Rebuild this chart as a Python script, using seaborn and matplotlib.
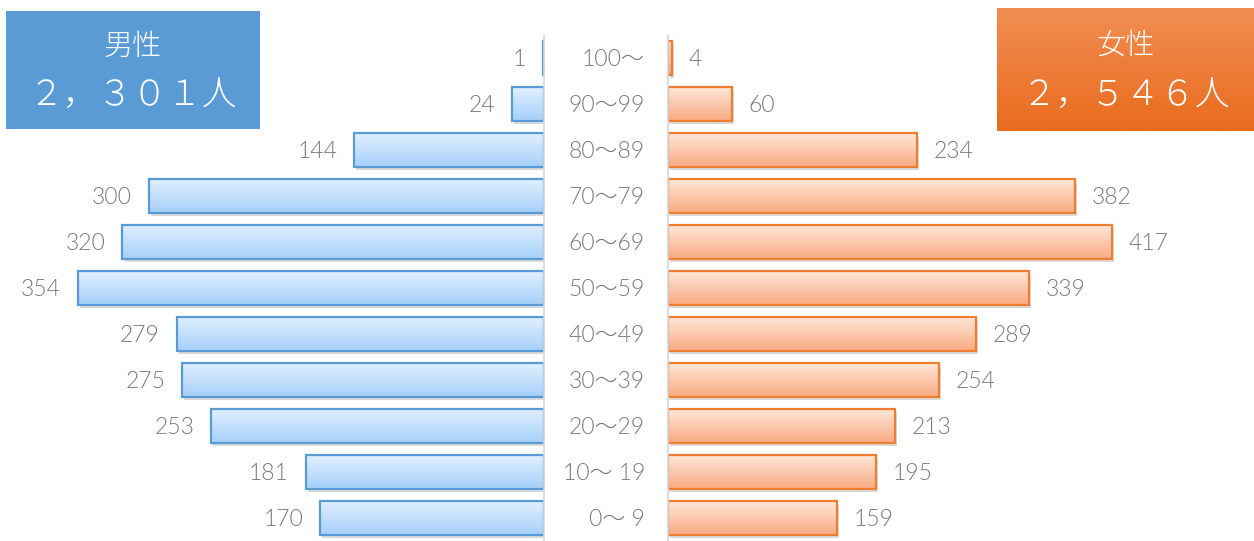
import numpy as np
import pandas as pd
import seaborn as sns
import matplotlib.pyplot as plt
from matplotlib.patches import Rectangle
from matplotlib.colors import LinearSegmentedColormap
import matplotlib.transforms as mtransforms

# data (top row first)
ages = ['100～', '90～99', '80～89', '70～79', '60～69', '50～59',
        '40～49', '30～39', '20～29', '10～ 19', '0～ 9']
male = [1, 24, 144, 300, 320, 354, 279, 275, 253, 181, 170]
female = [4, 60, 234, 382, 417, 339, 289, 254, 213, 195, 159]
male_title = '男性'
male_total = '２，３０１人'
female_title = '女性'
female_total = '２，５４６人'

sns.set_theme(style='white')
plt.rcParams['font.family'] = ['Lato', 'Noto Sans CJK JP', 'DejaVu Sans']

W, H = 1254, 541
fig = plt.figure(figsize=(W / 100, H / 100), dpi=100)
axL = fig.add_axes([0, 0, 544 / W, 1])
axR = fig.add_axes([668 / W, 0, (W - 668) / W, 1])

df = pd.DataFrame({'age': ages, 'male': male, 'female': female})
sns.barplot(data=df, x='male', y='age', orient='h', ax=axL, width=0.72,
            color='#5b9bd5')
sns.barplot(data=df, x='female', y='age', orient='h', ax=axR, width=0.72,
            color='#ed7d31')

blue_cmap = LinearSegmentedColormap.from_list('b', ['#e0efff', '#a6d0fa'])
orange_cmap = LinearSegmentedColormap.from_list('o', ['#fee6d8', '#f8ab82'])
grad = np.linspace(0, 1, 64).reshape(-1, 1)


def style_bars(ax, cmap, edge, xlim):
    shadow_tr = ax.transData + mtransforms.ScaledTranslation(1.5 / 72, -2.5 / 72, fig.dpi_scale_trans)
    for p in list(ax.patches):
        x0, y0, w, h = p.get_x(), p.get_y(), p.get_width(), p.get_height()
        sh = Rectangle((x0, y0), w, h, transform=shadow_tr, facecolor='#9a9a9a',
                       edgecolor='none', alpha=0.35, zorder=0.5)
        ax.add_patch(sh)
        im = ax.imshow(grad, cmap=cmap, aspect='auto', origin='upper',
                       extent=(x0, x0 + w, y0 + h, y0), zorder=1)
        im.set_clip_path(p)
        p.set_facecolor('none')
        p.set_edgecolor(edge)
        p.set_linewidth(1.6)
        p.set_zorder(2)
    ax.set_xlim(*xlim)
    ax.set_ylim(10.5, -1.26)
    ax.axis('off')


style_bars(axL, blue_cmap, '#5b9bd5', (413, 0))
style_bars(axR, orange_cmap, '#ed7d31', (0, 550))

txt_color = '#7a7a7a'
lbl = dict(fontsize=16.5, color=txt_color, fontweight=300, va='center_baseline')
for i, v in enumerate(male):
    axL.annotate(str(v), (v, i), xytext=(-12, 0), textcoords='offset points',
                 ha='right', **lbl)
for i, v in enumerate(female):
    axR.annotate(str(v), (v, i), xytext=(12, 0), textcoords='offset points',
                 ha='left', **lbl)

# age labels in the middle column
tr = mtransforms.blended_transform_factory(fig.transFigure, axL.transData)
for i, a in enumerate(ages):
    fig.text(645 / W, i, a, transform=tr, ha='right', **lbl)

# thin separators
for xp in (544, 668):
    fig.add_artist(plt.Line2D([xp / W, xp / W], [0, 1 - 35 / H],
                              transform=fig.transFigure, color='#d6d6d6', lw=1.2))

# total boxes
boxL = fig.add_axes([6 / W, 1 - 129 / H, 254 / W, 118 / H])
boxL.set_facecolor('#5b9bd5')
boxL.set_xticks([])
boxL.set_yticks([])
for s in boxL.spines.values():
    s.set_visible(False)
boxL.text(0.5, 0.70, male_title, ha='center', va='center', fontsize=21,
          color='white', fontweight='light', transform=boxL.transAxes)
boxL.text(0.5, 0.29, male_total, ha='center', va='center', fontsize=25,
          color='white', fontweight='light', transform=boxL.transAxes)

boxR = fig.add_axes([997 / W, 1 - 131 / H, 257 / W, 123 / H])
boxR.imshow(grad, cmap=LinearSegmentedColormap.from_list('ob', ['#f18d52', '#e96c1e']),
            aspect='auto', extent=(0, 1, 0, 1))
boxR.set_xlim(0, 1)
boxR.set_ylim(0, 1)
boxR.set_xticks([])
boxR.set_yticks([])
for s in boxR.spines.values():
    s.set_visible(False)
boxR.text(0.5, 0.70, female_title, ha='center', va='center', fontsize=21,
          color='white', fontweight='light', transform=boxR.transAxes)
boxR.text(0.5, 0.29, female_total, ha='center', va='center', fontsize=25,
          color='white', fontweight='light', transform=boxR.transAxes)

fig.savefig('out.png', dpi=100)
